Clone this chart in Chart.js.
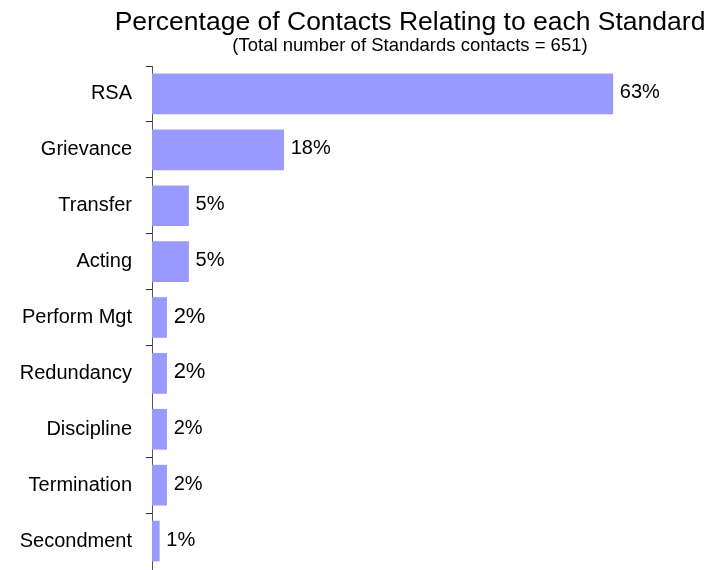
<!DOCTYPE html>
<html>
<head>
<meta charset="utf-8">
<script src="https://cdn.jsdelivr.net/npm/chart.js@4.4.0/dist/chart.umd.min.js"></script>
<style>
  html, body { margin: 0; padding: 0; background: #ffffff; }
  #wrap { width: 708px; height: 570px; position: relative; }
</style>
</head>
<body>
<div id="wrap"><canvas id="chart" width="708" height="570"></canvas></div>
<script>
// Categories and their share of all Standards contacts (per cent)
const categories = ['RSA', 'Grievance', 'Transfer', 'Acting', 'Perform Mgt', 'Redundancy', 'Discipline', 'Termination', 'Secondment'];
const percentages = [63, 18, 5, 5, 2, 2, 2, 2, 1];
const titleText = 'Percentage of Contacts Relating to each Standard';
const subtitleText = '(Total number of Standards contacts = 651)';

const FONT = "'Liberation Sans', Arial, Helvetica, sans-serif";
// font size of each value label, in category order
const labelSizes = [20, 20, 20, 20, 22, 22, 20, 20, 20];

// Heading and sub-heading, centred over the plot
const headingPlugin = {
  id: 'heading',
  afterDraw(chart) {
    const ctx = chart.ctx;
    ctx.save();
    ctx.fillStyle = '#000';
    ctx.textAlign = 'center';
    ctx.textBaseline = 'alphabetic';
    ctx.font = `26.5px ${FONT}`;
    ctx.fillText(titleText, 410, 30);
    ctx.font = `18.5px ${FONT}`;
    ctx.fillText(subtitleText, 410, 51);
    ctx.restore();
  }
};

// Percentage written just past the end of each bar
const valueLabelPlugin = {
  id: 'valueLabels',
  afterDatasetsDraw(chart) {
    const ctx = chart.ctx;
    const meta = chart.getDatasetMeta(0);
    const data = chart.data.datasets[0].data;
    ctx.save();
    ctx.fillStyle = '#000';
    ctx.textAlign = 'left';
    ctx.textBaseline = 'middle';
    meta.data.forEach((bar, i) => {
      ctx.font = `${labelSizes[i]}px ${FONT}`;
      ctx.fillText(data[i] + '%', bar.x + 7, bar.y - 1);
    });
    ctx.restore();
  }
};

new Chart(document.getElementById('chart'), {
  type: 'bar',
  data: {
    labels: categories,
    datasets: [{
      data: percentages,
      backgroundColor: '#9999FF',
      borderWidth: 0,
      barThickness: 40
    }]
  },
  options: {
    indexAxis: 'y',
    responsive: false,
    animation: false,
    events: [],
    layout: { padding: { top: 66, right: 44, bottom: 1, left: 0 } },
    plugins: {
      legend: { display: false },
      title: { display: false },
      tooltip: { enabled: false }
    },
    scales: {
      x: { display: false, min: 0, max: 70 },
      y: {
        afterFit(scale) {
          scale.width = 152;
          scale.paddingTop = 0;
          scale.paddingBottom = 0;
        },
        grid: {
          drawOnChartArea: false,
          drawTicks: true,
          tickLength: 6,
          offset: true,
          lineWidth: 1,
          // separator marks between categories; none between Redundancy
          // and Discipline, and none at the bottom end of the axis
          color: (ctx) => (ctx.type !== 'tick' || ctx.index === 6) ? 'rgba(0,0,0,0)' : '#333'
        },
        border: { display: true, color: '#555', width: 1 },
        ticks: {
          color: '#000',
          autoSkip: false,
          padding: 14,
          font: { family: FONT, size: 20 }
        }
      }
    }
  },
  plugins: [headingPlugin, valueLabelPlugin]
});
</script>
</body>
</html>
